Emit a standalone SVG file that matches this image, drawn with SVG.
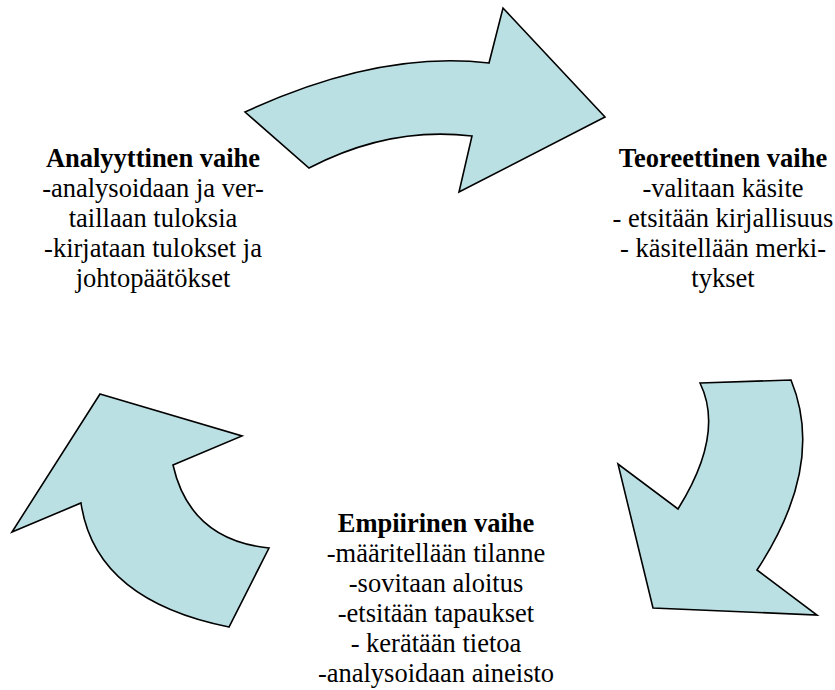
<svg xmlns="http://www.w3.org/2000/svg" width="835" height="690" viewBox="0 0 835 690">
<style>
.arrow{fill:#BBE0E3;stroke:#000;stroke-width:1.6;stroke-linejoin:miter}
.t{font-family:"Liberation Serif","Times New Roman",serif;font-size:26.5px;fill:#000;text-anchor:middle}
.b{font-weight:bold}
</style>
<rect width="835" height="690" fill="#fff"/>
<g id="connectors">
<path id="arrow-top" class="arrow" d="M245,112 Q379,50 489,63 L503,8 L605,117 L459,192 L472,136 Q389.5,126 309,168 Z"/>
<path id="arrow-right" class="arrow" d="M700,383 L791,380 Q826,465 757,570 L817,615 L653,608 L618,464 L678,509 Q725,434 700,383 Z"/>
<path id="arrow-left" class="arrow" d="M100,394 L242,436 L173,465 Q190,540 269,548 L229,627 Q95,600 81,503 L12,532 Z"/>
</g>
<g id="node-analyyttinen">
<text class="t" x="153" y="167"><tspan class="b" x="153">Analyyttinen vaihe</tspan><tspan x="153" dy="30">-analysoidaan ja ver-</tspan><tspan x="153" dy="30">taillaan tuloksia</tspan><tspan x="153" dy="30">-kirjataan tulokset ja</tspan><tspan x="153" dy="30">johtopäätökset</tspan></text>
</g>
<g id="node-teoreettinen">
<text class="t" x="723" y="167"><tspan class="b" x="723">Teoreettinen vaihe</tspan><tspan x="723" dy="30">-valitaan käsite</tspan><tspan x="723" dy="30">- etsitään kirjallisuus</tspan><tspan x="723" dy="30">- käsitellään merki-</tspan><tspan x="723" dy="30">tykset</tspan></text>
</g>
<g id="node-empiirinen">
<text class="t" x="436" y="532"><tspan class="b" x="436">Empiirinen vaihe</tspan><tspan x="436" dy="30">-määritellään tilanne</tspan><tspan x="436" dy="30">-sovitaan aloitus</tspan><tspan x="436" dy="30">-etsitään tapaukset</tspan><tspan x="436" dy="30">- kerätään tietoa</tspan><tspan x="436" dy="30">-analysoidaan aineisto</tspan></text>
</g>
</svg>
